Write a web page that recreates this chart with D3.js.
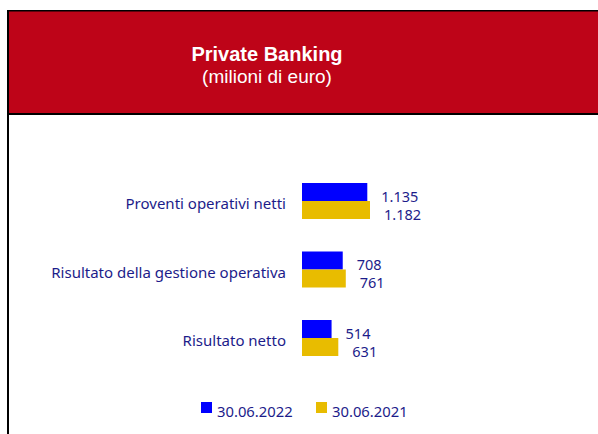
<!DOCTYPE html>
<html>
<head>
<meta charset="utf-8">
<script src="https://cdn.jsdelivr.net/npm/d3@7/dist/d3.min.js"></script>
<style>
  html, body { margin: 0; padding: 0; background: #fff; }
  svg { display: block; }
</style>
</head>
<body>
<svg id="chart" width="598" height="434"></svg>
<script>
const title = "Private Banking";
const subtitle = "(milioni di euro)";
const categories = ["Proventi operativi netti", "Risultato della gestione operativa", "Risultato netto"];
const seriesNames = ["30.06.2022", "30.06.2021"];
const values2022 = [1135, 708, 514];
const values2021 = [1182, 761, 631];
const valueLabels2022 = ["1.135", "708", "514"];
const valueLabels2021 = ["1.182", "761", "631"];
const colors = ["#0000FF", "#E8BC00"];

const svg = d3.select("#chart");
const textColor = "#1C1C8A";

// Frame and header
svg.append("rect").attr("x", 9).attr("y", 11).attr("width", 600).attr("height", 102).attr("fill", "#BE0418");
svg.append("rect").attr("x", 7).attr("y", 10).attr("width", 600).attr("height", 1.5).attr("fill", "#000");
svg.append("rect").attr("x", 7).attr("y", 10).attr("width", 2).attr("height", 430).attr("fill", "#000");
svg.append("rect").attr("x", 7).attr("y", 113).attr("width", 600).attr("height", 2).attr("fill", "#000");

svg.append("text").attr("x", 267).attr("y", 61).attr("text-anchor", "middle")
  .attr("font-family", "Liberation Sans, Arial, sans-serif").attr("font-weight", "bold")
  .attr("font-size", 20).attr("fill", "#fff").text(title);
svg.append("text").attr("x", 267).attr("y", 83).attr("text-anchor", "middle")
  .attr("font-family", "Liberation Sans, Arial, sans-serif")
  .attr("font-size", 19).attr("fill", "#fff").text(subtitle);

// Scales
const x = d3.scaleLinear().domain([0, 1182]).range([302, 370]);
const y = d3.scalePoint().domain(categories).range([201, 338]);
const sub = d3.scaleBand().domain(seriesNames).range([-18, 18]);

const data = categories.map((c, i) => ({
  cat: c,
  vals: [
    { s: seriesNames[0], v: values2022[i], lab: valueLabels2022[i] },
    { s: seriesNames[1], v: values2021[i], lab: valueLabels2021[i] }
  ]
}));

const g = svg.append("g");
const groups = g.selectAll("g.grp").data(data).join("g").attr("class", "grp")
  .attr("transform", d => `translate(0,${y(d.cat)})`);

groups.selectAll("rect").data(d => d.vals).join("rect")
  .attr("x", x(0))
  .attr("y", d => sub(d.s))
  .attr("width", d => x(d.v) - x(0))
  .attr("height", sub.bandwidth())
  .attr("fill", (d, i) => colors[i]);

groups.selectAll("text.val").data(d => d.vals).join("text").attr("class", "val")
  .attr("x", d => x(d.v) + 14)
  .attr("y", d => sub(d.s) + sub.bandwidth() + 0.5)
  .attr("font-family", "Noto Sans, sans-serif").attr("font-size", 14.5)
  .attr("fill", textColor).text(d => d.lab);

groups.append("text").attr("class", "cat")
  .attr("x", 286).attr("y", 8).attr("text-anchor", "end")
  .attr("font-family", "Noto Sans, sans-serif").attr("font-size", 15)
  .attr("fill", textColor).text(d => d.cat);

// Legend
const legendX = [201, 316];
const lg = svg.append("g").selectAll("g").data(seriesNames).join("g")
  .attr("transform", (d, i) => `translate(${legendX[i]},402)`);
lg.append("rect").attr("width", 11).attr("height", 11).attr("fill", (d, i) => colors[i]);
lg.append("text").attr("x", 16).attr("y", 14.5)
  .attr("font-family", "Noto Sans, sans-serif").attr("font-size", 14.8)
  .attr("fill", textColor).text(d => d);
</script>
</body>
</html>
